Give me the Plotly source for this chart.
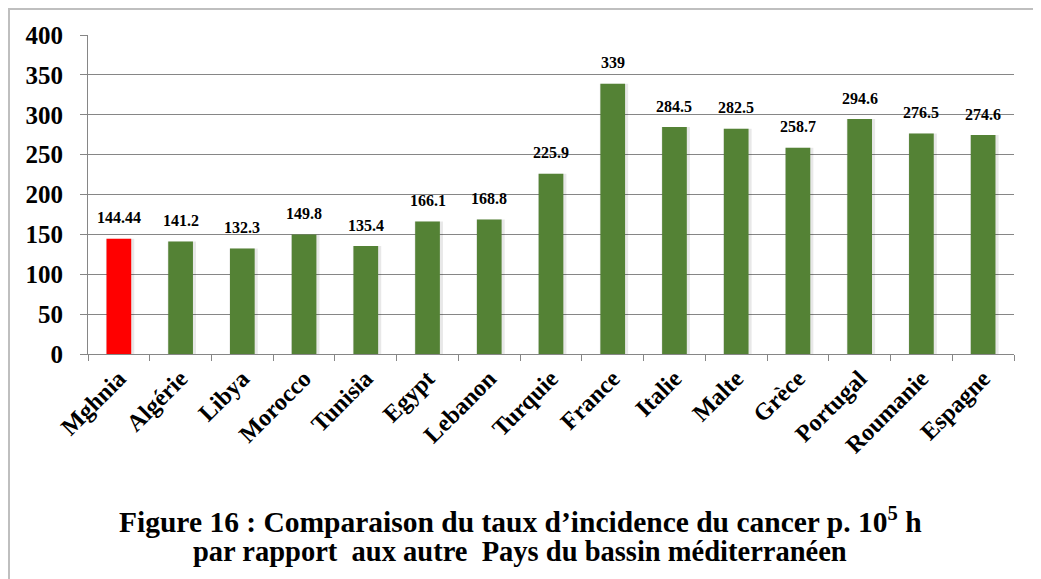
import plotly.graph_objects as go

countries = ["Mghnia", "Algérie", "Libya", "Morocco", "Tunisia", "Egypt", "Lebanon",
             "Turquie", "France", "Italie", "Malte", "Grèce", "Portugal", "Roumanie", "Espagne"]
values = [144.44, 141.2, 132.3, 149.8, 135.4, 166.1, 168.8, 225.9, 339, 284.5, 282.5,
          258.7, 294.6, 276.5, 274.6]
labels = ["144.44", "141.2", "132.3", "149.8", "135.4", "166.1", "168.8", "225.9", "339",
          "284.5", "282.5", "258.7", "294.6", "276.5", "274.6"]
y_ticks = [0, 50, 100, 150, 200, 250, 300, 350, 400]

colors = ["#FF0000"] + ["#548235"] * (len(countries) - 1)
FONT = "Liberation Serif"

# page has an 8px body margin: figure placed at (8, 8) in the page
OFF = 8
W, H = 1041 - OFF, 579 - OFF
L, R, T = 88 - OFF, 1041 - 1014, 35 - OFF
B = H - (354 - OFF)
pw, ph = W - L - R, H - T - B


def px2x(px):
    return (px - OFF - L) / pw


def py2y(py):
    return (H - B - (py - OFF)) / ph


fig = go.Figure()
# soft shadow
fig.add_trace(go.Bar(
    x=countries, y=values, width=0.46, offset=-0.21,
    marker=dict(color="rgba(0,0,0,0.09)", line=dict(width=0)),
    hoverinfo="skip",
))
fig.add_trace(go.Bar(
    x=countries, y=values, width=0.4, offset=-0.2,
    marker=dict(color=colors, line=dict(width=0)),
))

annotations = []
for c, v, t in zip(countries, values, labels):
    annotations.append(dict(
        x=c, y=v, text=t, showarrow=False, xanchor="center", yanchor="middle",
        yshift=21, font=dict(family=FONT, size=16, color="black", weight="bold"),
    ))

annotations.append(dict(
    xref="paper", yref="paper", x=px2x(520), y=py2y(520),
    xanchor="center", yanchor="middle", showarrow=False,
    text="Figure 16 : Comparaison du taux d’incidence du cancer p. 10<sup>5</sup> h",
    font=dict(family=FONT, size=29.5, color="black", weight="bold"),
))
annotations.append(dict(
    xref="paper", yref="paper", x=px2x(520), y=py2y(551),
    xanchor="center", yanchor="middle", showarrow=False,
    text="par rapport \u00a0aux autre \u00a0Pays du bassin méditerranéen",
    font=dict(family=FONT, size=28.5, color="black", weight="bold"),
))

fig.update_layout(
    width=W, height=H,
    margin=dict(l=L, r=R, t=T, b=B),
    plot_bgcolor="white", paper_bgcolor="white",
    showlegend=False, barmode="overlay",
    font=dict(family=FONT, color="black"),
    xaxis=dict(
        tickangle=-45, ticks="outside", tickson="boundaries", ticklen=6,
        tickcolor="#868686", showline=True, linecolor="#868686", linewidth=1,
        tickfont=dict(family=FONT, size=24, color="black", weight="bold"),
        showgrid=False, automargin=False,
    ),
    yaxis=dict(
        range=[0, 400], tickvals=y_ticks, ticks="outside", ticklen=7,
        tickcolor="#868686", showline=True, linecolor="#868686", linewidth=1,
        gridcolor="#868686", gridwidth=1, zeroline=False, automargin=False,
        ticklabelstandoff=12,
        tickfont=dict(family=FONT, size=25, color="black", weight="bold"),
    ),
    shapes=[dict(
        type="rect", xref="paper", yref="paper",
        x0=px2x(9), x1=px2x(1080), y0=py2y(620), y1=py2y(9),
        line=dict(color="#BFBFBF", width=2), fillcolor="rgba(0,0,0,0)", layer="below",
    )],
    annotations=annotations,
)

fig.write_html("out.html")
